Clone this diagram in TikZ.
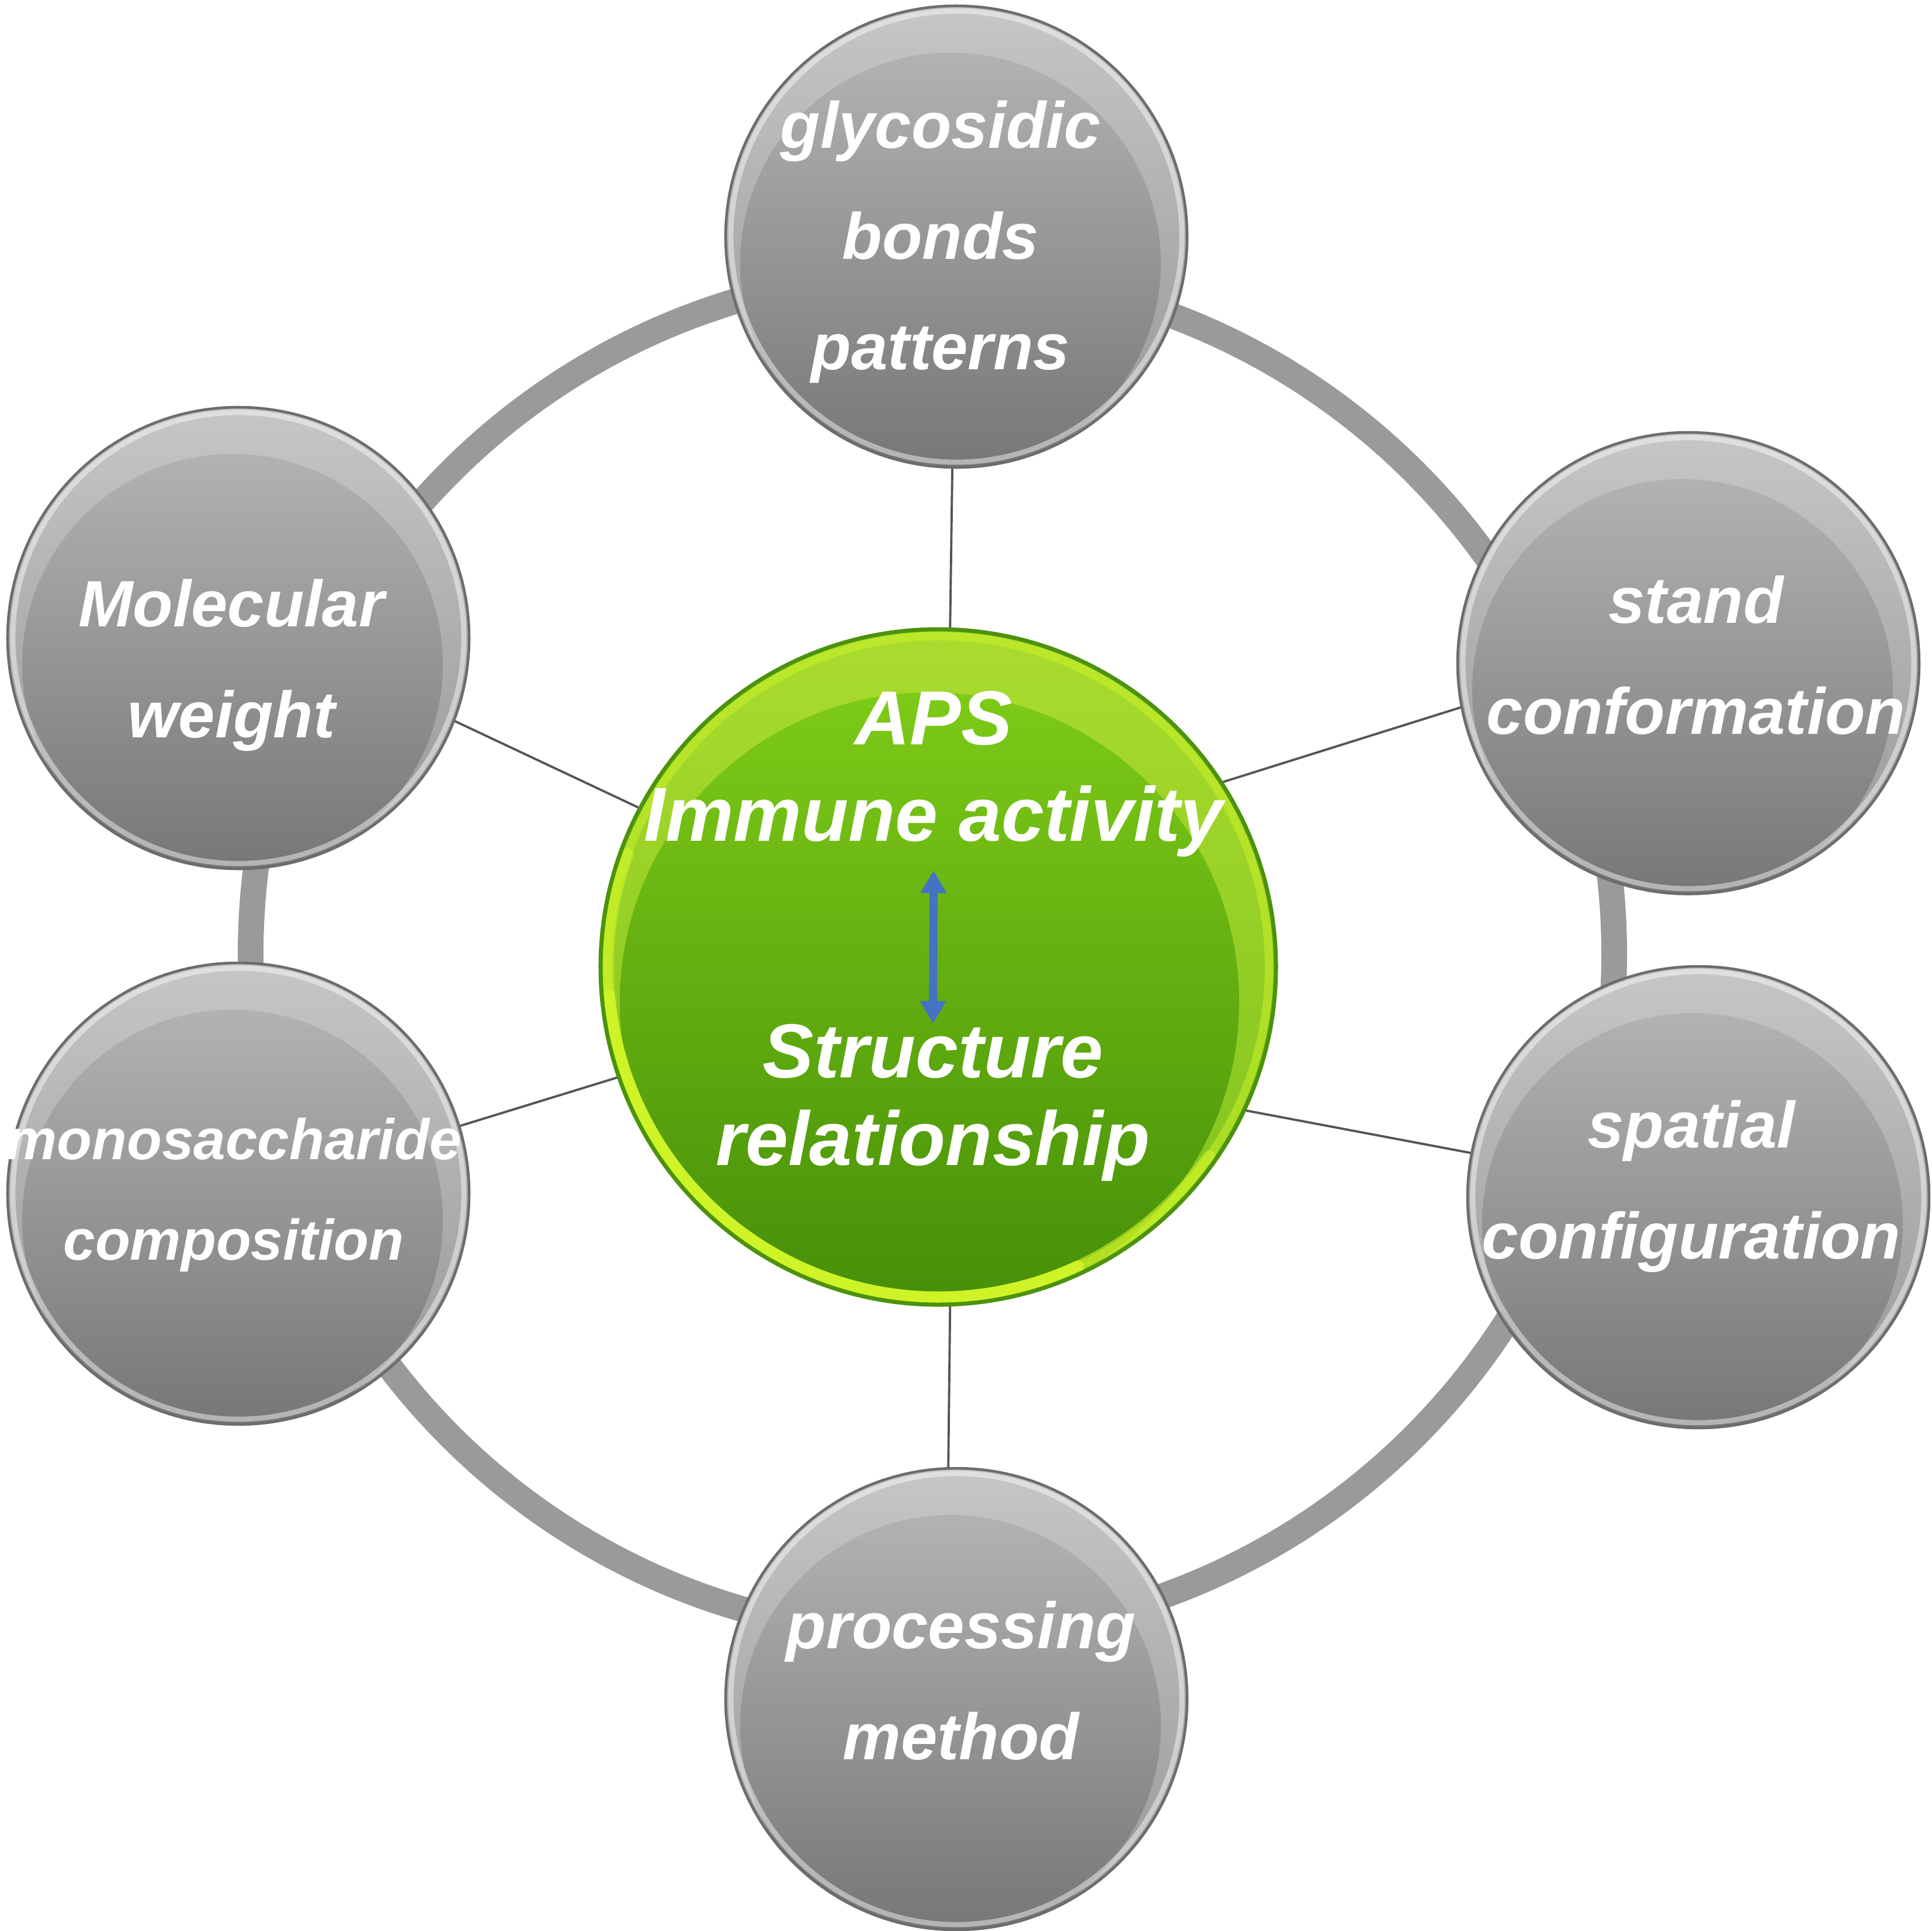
\documentclass[tikz,border=0pt]{standalone}
\usepackage{fontspec}
\setmainfont{Liberation Sans}
\usetikzlibrary{arrows.meta}

\definecolor{ringgray}{RGB}{154,154,154}
\definecolor{linkgray}{RGB}{85,85,85}
\definecolor{balledge}{RGB}{108,108,108}
\definecolor{balltop}{RGB}{198,198,198}
\definecolor{ballbot}{RGB}{150,150,150}
\definecolor{glosstop}{RGB}{178,178,178}
\definecolor{glossbot}{RGB}{118,118,118}
\definecolor{coreedge}{RGB}{76,146,12}
\definecolor{coretop}{RGB}{170,220,46}
\definecolor{corebot}{RGB}{125,192,28}
\definecolor{coreglosstop}{RGB}{125,202,24}
\definecolor{coreglossbot}{RGB}{70,142,8}
\definecolor{corerim}{RGB}{206,244,40}
\definecolor{arrowblue}{RGB}{68,114,196}

\begin{document}
\begin{tikzpicture}[x=1cm,y=1cm,>={Triangle[width=12pt,length=11pt]},
    ball/.style={circle,draw=balledge,line width=1.3pt,minimum size=7.9cm,inner sep=0pt,
      top color=balltop,bottom color=ballbot,
      path picture={
        \begin{scope}[shift={(path picture bounding box.center)}]
          \shade[top color=glosstop,bottom color=glossbot] (-0.1,-0.45) circle (3.6);
          \draw[white,opacity=0.45,line width=2.5pt] (0,0) circle (3.86);
        \end{scope}}},
    core/.style={circle,draw=coreedge,line width=2pt,minimum size=11.56cm,inner sep=0pt,
      top color=coretop,bottom color=corebot,
      path picture={
        \begin{scope}[shift={(path picture bounding box.center)}]
          \shade[top color=coreglosstop,bottom color=coreglossbot] (-0.15,-0.6) circle (5.3);
          \draw[corerim,opacity=0.5,line width=4pt] (0,0) circle (5.66);
          \draw[corerim,opacity=0.6,line width=6pt,line cap=round] (160:5.66) arc (160:325:5.66);
          \draw[corerim,line width=6pt,line cap=round] (185:5.66) arc (185:295:5.66);
        \end{scope}}},
    balltext/.style={align=center,inner sep=0pt,text=white,
      font=\fontsize{31.9}{54}\selectfont\bfseries\itshape,
      execute at begin node=\strut,execute at end node=\strut},
    link/.style={draw=linkgray,line width=1.1pt},
    twoway/.style={<->,draw=arrowblue,fill=arrowblue,line width=4pt}]

  \useasboundingbox (0,0) rectangle (33.07,-33.04);

  % outer ring behind the balls
  \draw[ringgray,line width=0.44cm] (15.96,-16.33) circle (11.67);

  \node[core] (core) at (16.06,-16.55) {};
  \node[ball] (gb) at (16.37,-4.05) {};
  \node[ball] (mw) at (4.08,-10.92) {};
  \node[ball] (sc) at (28.90,-11.35) {};
  \node[ball] (mc) at (4.08,-20.43) {};
  \node[ball] (spc) at (29.07,-20.49) {};
  \node[ball] (pm) at (16.37,-29.08) {};

  \node[balltext] (gbt) at (16.10,-4.31) {glycosidic\\bonds\\patterns};
  \node[balltext] (mwt) at (3.96,-11.55) {Molecular\\weight};
  \node[balltext] (sct) at (29.03,-11.49) {stand\\conformation};
  \node[balltext,font=\fontsize{27.9}{49}\selectfont\bfseries\itshape] (mct) at (4.00,-20.61) {monosaccharide\\composition};
  \node[balltext] (spct) at (28.95,-20.47) {spatial\\configuration};
  \node[balltext] (pmt) at (16.45,-29.04) {processing\\method};

  \node[balltext,font=\fontsize{37.3}{47}\selectfont\bfseries\itshape] (aps) at (15.98,-13.36) {APS\\Immune activity};
  \node[balltext,font=\fontsize{37.3}{42.7}\selectfont\bfseries\itshape] (sr) at (15.97,-18.96) {Structure\\relationship};

  \path[link]
    (core.88) edge (gb.269)
    (core.152) edge (mw.339)
    (core.33) edge (sc.191)
    (core.199) edge (mc.17)
    (core.335) edge (spc.169)
    (core.272) edge (pm.92);

  \draw[twoway] (aps.south) -- (sr.north);
\end{tikzpicture}
\end{document}
